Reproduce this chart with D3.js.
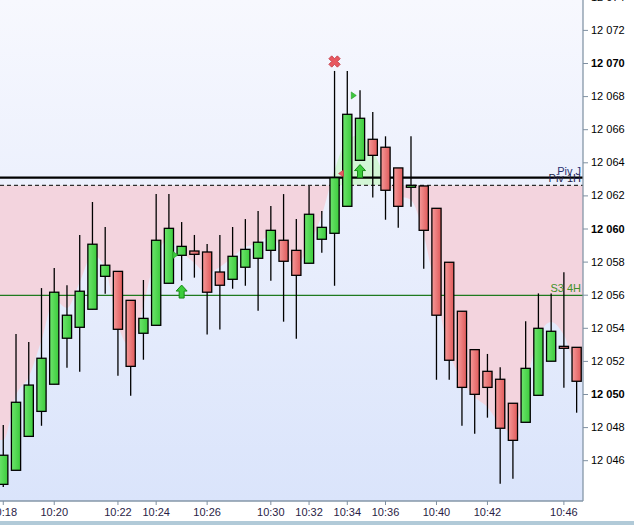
<!DOCTYPE html>
<html><head><meta charset="utf-8">
<script src="https://cdn.jsdelivr.net/npm/d3@7/dist/d3.min.js"></script>
<style>
html,body{margin:0;padding:0;background:#fff;}
svg{display:block;font-family:"Liberation Sans",Arial,sans-serif;}
</style></head><body>
<script>
// ---- data ----
const opens  = [12044.54,12045.39,12047.44,12048.95,12050.59,12053.37,12054.03,12055.12,12057.11,12057.41,12055.66,12053.67,12054.15,12056.69,12058.38,12058.64,12058.58,12057.37,12056.93,12057.66,12058.20,12058.68,12059.29,12058.68,12057.90,12059.35,12059.71,12061.34,12064.12,12065.39,12064.91,12063.66,12062.49,12062.57,12061.22,12057.96,12055.00,12052.68,12051.37,12050.89,12049.44,12048.29,12049.92,12051.98,12052.88,12052.82];
const highs  = [12048.13,12053.63,12053.14,12056.40,12057.61,12056.57,12059.61,12061.60,12060.09,12057.41,12055.66,12056.89,12062.08,12062.08,12060.39,12059.61,12059.06,12059.61,12060.09,12060.57,12061.06,12061.36,12062.08,12060.57,12062.57,12061.06,12069.52,12069.52,12068.35,12067.04,12065.57,12063.66,12065.57,12062.57,12061.22,12057.96,12055.00,12052.68,12052.42,12051.61,12049.44,12054.39,12056.08,12056.08,12057.35,12052.82];
const lows   = [12044.38,12045.39,12047.44,12048.08,12050.59,12051.59,12051.35,12055.12,12056.06,12051.11,12049.90,12052.07,12054.15,12056.69,12056.85,12057.03,12053.60,12053.89,12056.36,12056.54,12055.03,12056.85,12054.37,12053.34,12057.90,12058.54,12056.54,12061.34,12064.12,12061.87,12060.53,12060.05,12061.32,12057.57,12050.86,12050.86,12048.08,12047.60,12048.57,12044.58,12044.88,12048.29,12049.92,12051.98,12050.38,12048.87];
const closes = [12046.30,12049.50,12050.54,12052.16,12056.15,12054.76,12056.21,12059.05,12057.78,12053.91,12051.67,12054.57,12059.29,12060.01,12058.92,12058.44,12056.15,12056.57,12058.32,12058.74,12059.17,12059.89,12058.02,12057.17,12060.86,12060.07,12063.07,12066.90,12066.66,12064.42,12062.31,12061.34,12062.61,12059.89,12054.76,12052.04,12050.40,12049.98,12050.40,12047.93,12047.20,12051.55,12053.97,12053.79,12052.76,12050.77];
// smoothed "cloud" edge
const cloud  = [12047.22,12049.94,12051.03,12053.26,12055.68,12055.20,12056.77,12058.40,12057.61,12054.17,12052.84,12055.38,12058.40,12059.31,12058.58,12057.92,12057.31,12057.67,12058.28,12058.88,12059.12,12059.61,12058.58,12057.79,12059.00,12060.82,12063.53,12065.35,12065.65,12064.74,12063.05,12062.02,12061.72,12059.61,12055.98,12052.54,12050.85,12049.82,12049.21,12048.13,12047.70,12050.54,12053.44,12054.35,12053.56,12051.75];
const timeTickIdx    = [0,4,9,12,16,21,24,27,30,34,38,44];
const timeTickLabels = ["10:18","10:20","10:22","10:24","10:26","10:30","10:32","10:34","10:36","10:40","10:42","10:46"];
const priceTicks = [12046,12048,12050,12052,12054,12056,12058,12060,12062,12064,12066,12068,12070,12072,12074];
const levelNames  = ["Piv J","Piv 1H","S3 4H"];
const levelValues = [12063.07,12062.61,12055.96];
const markerIdx   = [26,27,26,13,14,28];
const markerPrice = [12070.09,12068.04,12063.32,12058.40,12056.19,12063.47];
const markerType  = ["cross","triR","triL","triR","arrowUp","arrowUp"];

// ---- layout ----
const W=634,H=525, plotR=583, plotB=501;
const svg=d3.select("body").append("svg").attr("width",W).attr("height",H);
const defs=svg.append("defs");
const bg=defs.append("linearGradient").attr("id","bg").attr("x1",0).attr("y1",0).attr("x2",0).attr("y2",1);
bg.append("stop").attr("offset","0%").attr("stop-color","#f7f8fe");
bg.append("stop").attr("offset","100%").attr("stop-color","#dae4fb");
const gg=defs.append("linearGradient").attr("id","gUp").attr("x1",0).attr("x2",1);
gg.append("stop").attr("offset","0%").attr("stop-color","#6de56d");
gg.append("stop").attr("offset","100%").attr("stop-color","#3ccb3c");
const rg=defs.append("linearGradient").attr("id","gDn").attr("x1",0).attr("x2",1);
rg.append("stop").attr("offset","0%").attr("stop-color","#f59a9a");
rg.append("stop").attr("offset","100%").attr("stop-color","#e05a5a");
defs.append("clipPath").attr("id","plotClip").append("rect").attr("x",0).attr("y",0).attr("width",plotR).attr("height",plotB);

const x=d3.scaleBand().domain(d3.range(opens.length)).range([-3.1,plotR]).paddingInner(0);
const cx=i=>x(i)+x.bandwidth()/2;
const y=d3.scaleLinear().domain([12050,12070]).range([394,63]);

svg.append("rect").attr("x",0).attr("y",0).attr("width",plotR).attr("height",plotB).attr("fill","url(#bg)");

const plot=svg.append("g").attr("clip-path","url(#plotClip)");

// cloud fill between Piv 1H level and smoothed curve
const base=levelValues[1];
const pts=cloud.map((v,i)=>[cx(i),v]);
pts.unshift([-8,cloud[0]]); pts.push([plotR+8,cloud[cloud.length-1]]);
const area=d3.area().x(d=>d[0]).y0(y(base)).y1(d=>y(d[1])).curve(d3.curveMonotoneX);
defs.append("clipPath").attr("id","belowClip").append("rect").attr("x",0).attr("y",y(base)).attr("width",plotR).attr("height",plotB);
defs.append("clipPath").attr("id","aboveClip").append("rect").attr("x",0).attr("y",0).attr("width",plotR).attr("height",y(base));
plot.append("path").attr("d",area(pts)).attr("fill","#f3d4de").attr("clip-path","url(#belowClip)");
plot.append("path").attr("d",area(pts)).attr("fill","#d3f6d6").attr("clip-path","url(#aboveClip)");

// level lines
plot.append("line").attr("x1",0).attr("x2",plotR).attr("y1",y(levelValues[2])).attr("y2",y(levelValues[2])).attr("stroke","#1f7a1f").attr("stroke-width",1.2);
plot.append("line").attr("x1",0).attr("x2",plotR).attr("y1",y(levelValues[1])).attr("y2",y(levelValues[1])).attr("stroke","#000").attr("stroke-width",1).attr("stroke-dasharray","4,3");
plot.append("line").attr("x1",0).attr("x2",plotR).attr("y1",y(levelValues[0])).attr("y2",y(levelValues[0])).attr("stroke","#000").attr("stroke-width",2.2);

// candles
const c=plot.selectAll("g.c").data(d3.range(opens.length)).join("g");
c.append("line").attr("x1",cx).attr("x2",cx).attr("y1",i=>y(highs[i])).attr("y2",i=>y(lows[i])).attr("stroke","#000").attr("stroke-width",1.3);
c.append("rect").attr("x",i=>cx(i)-4.6).attr("width",9.2)
 .attr("y",i=>y(Math.max(opens[i],closes[i])))
 .attr("height",i=>Math.max(1.5,Math.abs(y(opens[i])-y(closes[i]))))
 .attr("fill",i=>closes[i]>=opens[i]?"url(#gUp)":"url(#gDn)")
 .attr("stroke","#000").attr("stroke-width",1.3);

// level labels
const lblCol=["#283070","#23234a","#3f9128"];
const lblDy=[-3,-3,-3];
levelNames.forEach((n,k)=>{
  svg.append("text").attr("x",581).attr("y",y(levelValues[k])+lblDy[k]).attr("text-anchor","end")
   .attr("font-size",11).attr("fill",lblCol[k]).text(n);
});

// markers
markerIdx.forEach((i,k)=>{
  const px=cx(i), py=y(markerPrice[k]), t=markerType[k];
  if(t==="cross"){
    plot.append("path").attr("d",d3.symbol(d3.symbolCross).size(80)()).attr("transform",`translate(${px},${py}) rotate(45)`)
      .attr("fill","#e85860").attr("stroke","#c23a44").attr("stroke-width",0.8);
  } else if(t==="triR"){
    plot.append("path").attr("d",`M${px+4},${py-3.5}L${px+9},${py}L${px+4},${py+3.5}Z`).attr("fill","#3cc83c").attr("stroke","#1f9a1f").attr("stroke-width",0.6);
  } else if(t==="triL"){
    plot.append("path").attr("d",`M${px+4},${py}L${px+9},${py-3.5}L${px+9},${py+3.5}Z`).attr("fill","#e85860").attr("stroke","#c23a44").attr("stroke-width",0.6);
  } else if(t==="arrowUp"){
    plot.append("path").attr("d",`M${px},${py-6.5}L${px+5.5},${py-0.5}L${px+2.5},${py-0.5}L${px+2.5},${py+6.5}L${px-2.5},${py+6.5}L${px-2.5},${py-0.5}L${px-5.5},${py-0.5}Z`)
      .attr("fill","#3ccc3c").attr("stroke","#178a17").attr("stroke-width",1);
  }
});

// plot border
svg.append("line").attr("x1",plotR).attr("x2",plotR).attr("y1",0).attr("y2",plotB).attr("stroke","#8597a8").attr("stroke-width",1.3);
svg.append("line").attr("x1",0).attr("x2",plotR).attr("y1",plotB).attr("y2",plotB).attr("stroke","#8597a8").attr("stroke-width",1.3);

// y axis
const fmt=v=>d3.format(",")(v).replace(",", " ");
const ya=svg.append("g").attr("transform",`translate(${plotR},0)`)
 .call(d3.axisRight(y).tickValues(priceTicks).tickSize(5).tickPadding(3).tickFormat(fmt));
ya.select(".domain").remove();
ya.selectAll(".tick line").attr("stroke","#7f90a2");
ya.selectAll(".tick text").attr("font-size",11).attr("font-family","Liberation Sans, Arial, sans-serif").attr("fill","#000")
  .attr("font-weight",d=>d%10===0?"bold":"normal");

// x axis
const xa=svg.append("g").attr("transform",`translate(${-x.bandwidth()/2+x.bandwidth()/2},${plotB})`)
 .call(d3.axisBottom(x).tickValues(timeTickIdx).tickSize(4).tickPadding(3).tickFormat(i=>timeTickLabels[timeTickIdx.indexOf(i)]));
xa.select(".domain").remove();
xa.selectAll(".tick line").attr("stroke","#7f90a2");
xa.selectAll(".tick text").attr("font-size",11).attr("font-family","Liberation Sans, Arial, sans-serif").attr("fill","#2a1d46");

// bottom strip
svg.append("rect").attr("x",0).attr("y",521).attr("width",W).attr("height",4).attr("fill","#b1cad8");
</script>
</body></html>
